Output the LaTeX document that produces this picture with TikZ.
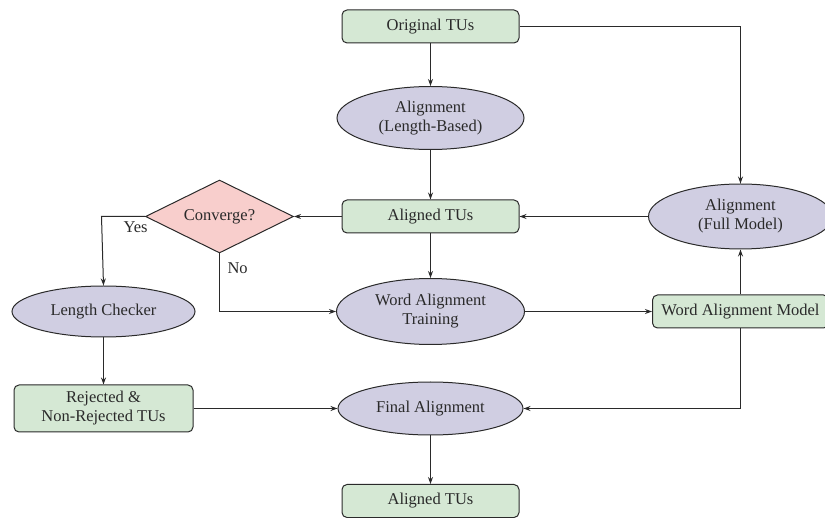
\documentclass[tikz,border=0pt]{standalone}
\usepackage{fontspec}
\setmainfont{Liberation Serif}
\usetikzlibrary{shapes.geometric,arrows.meta}
\definecolor{boxgreen}{HTML}{D5E8D4}
\definecolor{ellpurple}{HTML}{D0CEE2}
\definecolor{diamred}{HTML}{F8CECC}
\definecolor{linegray}{HTML}{2A2A2A}
\begin{document}
\begin{tikzpicture}[x=1pt,y=-1pt,
  every node/.style={font=\fontsize{16.5}{19}\selectfont, text=linegray},
  gbox/.style={draw=linegray, line width=1pt, fill=boxgreen, rounded corners=5pt, minimum width=177pt, minimum height=33pt, inner sep=0pt, align=center},
  pell/.style={draw=linegray, line width=1pt, fill=ellpurple, ellipse, inner sep=0pt, align=center},
  rdiam/.style={draw=linegray, line width=1pt, fill=diamred, diamond, aspect=2, inner sep=0pt, minimum width=148pt, minimum height=73pt},
  conn/.style={draw=linegray, line width=1pt, -{Stealth[length=7pt,width=5pt]}},
  lab/.style={font=\fontsize{16.5}{19}\selectfont}
]
\useasboundingbox (0,0) rectangle (825,518);
\node[gbox] (orig) at (430.5,26.5) {Original TUs};
\node[pell, minimum width=187pt, minimum height=63pt] (alb) at (430.5,118) {Alignment\\(Length-Based)};
\node[gbox] (at1) at (430.5,216.5) {Aligned TUs};
\node[rdiam] (conv) at (219.5,216.5) {Converge?};
\node[pell, minimum width=184pt, minimum height=65pt] (afm) at (740.5,216.5) {Alignment\\(Full Model)};
\node[pell, minimum width=183pt, minimum height=51pt] (lc) at (103.5,311.5) {Length Checker};
\node[pell, minimum width=188pt, minimum height=66pt] (wat) at (430.5,311.5) {Word Alignment\\Training};
\node[gbox, minimum width=176pt] (wam) at (740.5,311.5) {Word Alignment Model};
\node[gbox, minimum width=179pt, minimum height=47pt] (rej) at (103.5,408.5) {Rejected \&\\Non-Rejected TUs};
\node[pell, minimum width=185pt, minimum height=53pt] (fa) at (430.5,408.5) {Final Alignment};
\node[gbox] (at2) at (430.5,501) {Aligned TUs};

\coordinate (c1) at (740.5,26.5);
\coordinate (c2) at (101.5,216.5);
\coordinate (c3) at (219.5,311.5);
\coordinate (c4) at (740.5,408.5);

\draw[conn] (orig) -- (alb);
\draw[conn] (alb) -- (at1);
\draw[conn] (orig.east) -- (c1) -- (afm.north);
\draw[conn] (afm.west) -- (at1.east);
\draw[conn] (at1.west) -- (conv.east);
\draw[conn] (conv.west) -- (c2) -- (lc.north);
\node[lab, anchor=north west] (yes) at (120,218) {Yes};
\draw[conn] (conv.south) -- (c3) -- (wat.west);
\node[lab, anchor=west] (no) at (224,268) {No};
\draw[conn] (at1) -- (wat);
\draw[conn] (wat.east) -- (wam.west);
\draw[conn] (wam.north) -- (afm.south);
\draw[conn] (wam.south) -- (c4) -- (fa.east);
\draw[conn] (lc.south) -- (rej.north);
\draw[conn] (rej.east) -- (fa.west);
\draw[conn] (fa) -- (at2);
\end{tikzpicture}
\end{document}
